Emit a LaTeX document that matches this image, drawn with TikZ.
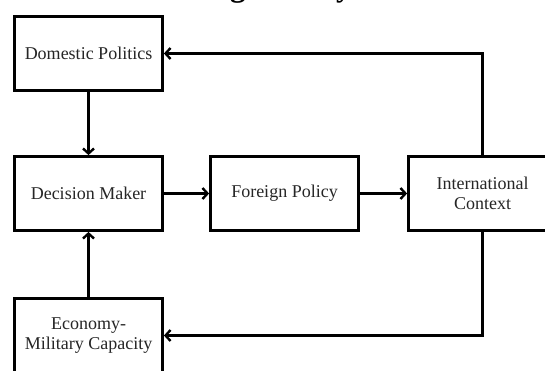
\documentclass[tikz,border=0pt]{standalone}
\usepackage{fontspec}
\setmainfont{Liberation Serif}
\usetikzlibrary{arrows.meta}
\begin{document}
\begin{tikzpicture}[x=1pt,y=-1pt,
  box/.style={draw=black,line width=2.8pt,rectangle,minimum width=148pt,minimum height=74pt,inner sep=0pt,align=center,text=black!85,font=\fontsize{18}{20.5}\selectfont},
  conn/.style={line width=2.8pt,-{Straight Barb[length=5pt,width=11pt,line width=2.4pt]}}]
\useasboundingbox (0,0) rectangle (545,370);
\clip (0,0) rectangle (545,370);
\fill[white] (0,0) rectangle (545,370);
\node[anchor=base west,inner sep=0pt,font=\fontsize{31}{33}\bfseries] (title) at (160,-3.5) {Foreign Policy};
\node[box] (dom) at (88.5,53.5) {Domestic Politics};
\node[box] (dec) at (88.5,193.5) {Decision Maker};
\node[box] (for) at (284.5,193.5) {Foreign Policy};
\node[box] (int) at (482.5,193.5) {International\\Context};
\node[box] (eco) at (88.5,335.5) {Economy-\\Military Capacity};
\draw[conn] (dom.south) -- (dec.north);
\draw[conn] (eco.north) -- (dec.south);
\draw[conn] (dec.east) -- (for.west);
\draw[conn] (for.east) -- (int.west);
\draw[conn] (int.north) |- (dom.east);
\draw[conn] (int.south) |- (eco.east);
\end{tikzpicture}
\end{document}
